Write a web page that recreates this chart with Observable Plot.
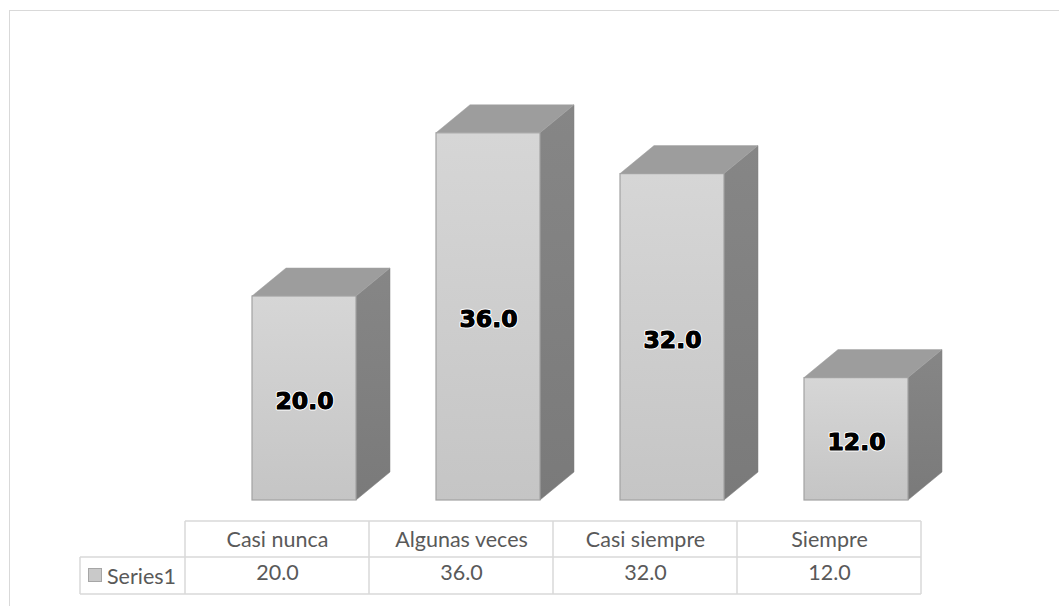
<!DOCTYPE html>
<html>
<head>
<meta charset="utf-8">
<script src="https://cdn.jsdelivr.net/npm/d3@7"></script>
<script src="https://cdn.jsdelivr.net/npm/@observablehq/plot@0.6"></script>
<style>
  html, body { margin: 0; padding: 0; background: #fff; overflow: hidden; }
  #wrap { position: relative; width: 1059px; height: 606px; }
  #frame { position: absolute; left: 9px; top: 10px; width: 1100px; height: 700px; border: 1px solid #d9d9d9; pointer-events: none; }
</style>
</head>
<body>
<div id="wrap"><div id="frame"></div></div>
<script>
// ---- data ----
const categories = ["Casi nunca", "Algunas veces", "Casi siempre", "Siempre"];
const values = [20.0, 36.0, 32.0, 12.0];
const seriesName = "Series1";

const data = categories.map((c, i) => ({category: c, value: values[i]}));
const fmt = d3.format(".1f");

// bar geometry (pixel styling)
const inL = 67, inR = 13, depthX = 34, depthY = 28;
const tableFont = "Lato, 'Open Sans', sans-serif";

const defs = () => {
  const g = d3.create("svg:g");
  const d = g.append("defs");
  const f = d.append("linearGradient").attr("id", "frontGrad").attr("x1", 0).attr("y1", 0).attr("x2", 0).attr("y2", 1);
  f.append("stop").attr("offset", "0%").attr("stop-color", "#d6d6d6");
  f.append("stop").attr("offset", "100%").attr("stop-color", "#c5c5c5");
  const s = d.append("linearGradient").attr("id", "sideGrad").attr("x1", 0).attr("y1", 0).attr("x2", 0).attr("y2", 1);
  s.append("stop").attr("offset", "0%").attr("stop-color", "#868686");
  s.append("stop").attr("offset", "100%").attr("stop-color", "#7a7a7a");
  return g.node();
};

// side + top faces of each 3D bar, placed through the plot's scales
const faces = (index, scales) => {
  const x = scales.x, y = scales.y;
  const g = d3.create("svg:g");
  data.forEach(d => {
    const x0 = x(d.category) + inL;
    const x1 = x(d.category) + x.bandwidth() - inR;
    const yt = y(d.value), yb = y(0);
    g.append("path")
      .attr("d", `M${x1},${yt}L${x1 + depthX},${yt - depthY}L${x1 + depthX},${yb - depthY}L${x1},${yb}Z`)
      .attr("fill", "url(#sideGrad)").attr("stroke", "#7c7c7c").attr("stroke-width", 0.5);
    g.append("path")
      .attr("d", `M${x0},${yt}L${x0 + depthX},${yt - depthY}L${x1 + depthX},${yt - depthY}L${x1},${yt}Z`)
      .attr("fill", "#9d9d9d").attr("stroke", "#a3a3a3").attr("stroke-width", 0.5);
  });
  return g.node();
};

// data table grid under the chart, aligned on the x scale
const tableGrid = (index, scales) => {
  const x = scales.x;
  const g = d3.create("svg:g").attr("stroke", "#d9d9d9").attr("stroke-width", 1.5).attr("fill", "none");
  const left = x(categories[0]);
  const right = x(categories[categories.length - 1]) + x.bandwidth();
  const rowTop = 521, rowMid = 557, rowBot = 594, keyLeft = 80;
  g.append("line").attr("x1", left).attr("x2", right).attr("y1", rowTop).attr("y2", rowTop);
  g.append("line").attr("x1", keyLeft).attr("x2", right).attr("y1", rowMid).attr("y2", rowMid);
  g.append("line").attr("x1", keyLeft).attr("x2", right).attr("y1", rowBot).attr("y2", rowBot);
  g.append("line").attr("x1", keyLeft).attr("x2", keyLeft).attr("y1", rowMid).attr("y2", rowBot);
  categories.forEach(c => {
    g.append("line").attr("x1", x(c)).attr("x2", x(c)).attr("y1", rowTop).attr("y2", rowBot);
  });
  g.append("line").attr("x1", right).attr("x2", right).attr("y1", rowTop).attr("y2", rowBot);
  // legend key
  g.append("rect").attr("x", 88.5).attr("y", 568.5).attr("width", 13).attr("height", 13)
    .attr("fill", "#c9c9c9").attr("stroke", "#a6a6a6").attr("stroke-width", 1);
  g.append("text").attr("x", 107).attr("y", 584)
    .attr("text-anchor", "start")
    .attr("stroke", "none").attr("fill", "#595959")
    .style("font-family", tableFont).style("font-size", "21.5px").text(seriesName);
  return g.node();
};

const chart = Plot.plot({
  width: 1059,
  height: 606,
  marginLeft: 184,
  marginRight: 138,
  marginTop: 92,
  marginBottom: 106,
  x: {domain: categories, padding: 0, axis: null},
  y: {domain: [0, 40], axis: null},
  style: {background: "transparent", overflow: "visible"},
  marks: [
    defs,
    faces,
    Plot.barY(data, {x: "category", y: "value", insetLeft: inL, insetRight: inR,
      fill: "url(#frontGrad)", stroke: "#a2a2a2", strokeWidth: 1.2}),
    Plot.text(data, {x: "category", y: d => d.value / 2, dx: 27, dy: 3, text: d => fmt(d.value),
      fontFamily: "DejaVu Sans", fontWeight: "bold", fontSize: 23.5, fill: "#000",
      stroke: "#fff", strokeWidth: 3}),
    Plot.text(data, {x: "category", y: d => d.value / 2, dx: 27, dy: 3, text: d => fmt(d.value),
      fontFamily: "DejaVu Sans", fontWeight: "bold", fontSize: 23.5, fill: "#000",
      stroke: "#000", strokeWidth: 1}),
    tableGrid,
    Plot.text(categories, {x: d => d, frameAnchor: "bottom", dy: 46, text: d => d,
      fontFamily: tableFont, fontSize: 21.5, fill: "#595959"}),
    Plot.text(data, {x: "category", frameAnchor: "bottom", dy: 79, text: d => fmt(d.value),
      fontFamily: tableFont, fontSize: 21.5, fill: "#595959"})
  ]
});
chart.style.position = "absolute";
chart.style.left = "0px";
chart.style.top = "0px";
document.getElementById("wrap").appendChild(chart);
</script>
</body>
</html>
